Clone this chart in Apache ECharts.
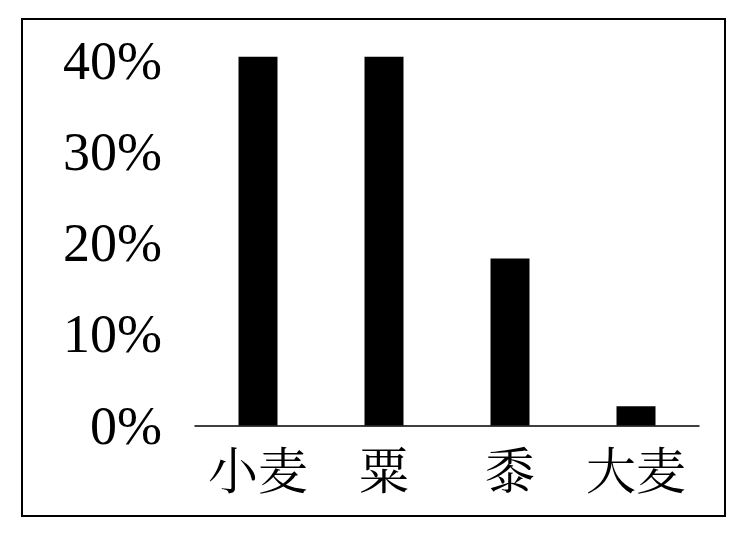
<!DOCTYPE html>
<html>
<head>
<meta charset="utf-8">
<script src="https://cdn.jsdelivr.net/npm/echarts@6/dist/echarts.min.js"></script>
<style>
  html, body { margin: 0; padding: 0; background: #fff; }
  #chart { width: 745px; height: 533px; }
</style>
</head>
<body>
<div id="chart"></div>
<script>
// Share of each grain (percent)
const categories = ['小麦', '粟', '黍', '大麦'];
const shares = [40.4, 40.4, 18.3, 2.1];
const yTicks = [0, 10, 20, 30, 40];

const chart = echarts.init(document.getElementById('chart'), null, { renderer: 'canvas' });

chart.setOption({
  backgroundColor: '#ffffff',
  animation: false,
  graphic: [{
    type: 'rect',
    shape: { x: 22, y: 19, width: 703, height: 497 },
    style: { fill: 'none', stroke: '#000', lineWidth: 2 },
    z: 10
  }],
  grid: { left: 195, top: 60.5, width: 504, height: 365, containLabel: false },
  xAxis: {
    type: 'category',
    data: categories,
    axisLine: { show: true, lineStyle: { color: '#000', width: 1.5 } },
    axisTick: { show: false },
    axisLabel: {
      interval: 0,
      hideOverlap: false,
      color: '#000',
      fontFamily: '"Noto Serif CJK SC", "Noto Sans CJK SC", serif',
      fontSize: 50,
      margin: 20
    }
  },
  yAxis: {
    type: 'value',
    min: yTicks[0],
    max: yTicks[yTicks.length - 1],
    interval: 10,
    splitLine: { show: false },
    axisLine: { show: false },
    axisTick: { show: false },
    axisLabel: {
      margin: 33,
      formatter: v => '{t|' + v + '%}',
      rich: {
        t: {
          color: '#000',
          fontFamily: '"Liberation Serif", "Times New Roman", serif',
          fontSize: 54,
          padding: [8, 0, 0, 0]
        }
      }
    }
  },
  series: [{
    type: 'bar',
    data: shares,
    barWidth: 39,
    clip: false,
    itemStyle: { color: '#000' }
  }]
});
</script>
</body>
</html>
